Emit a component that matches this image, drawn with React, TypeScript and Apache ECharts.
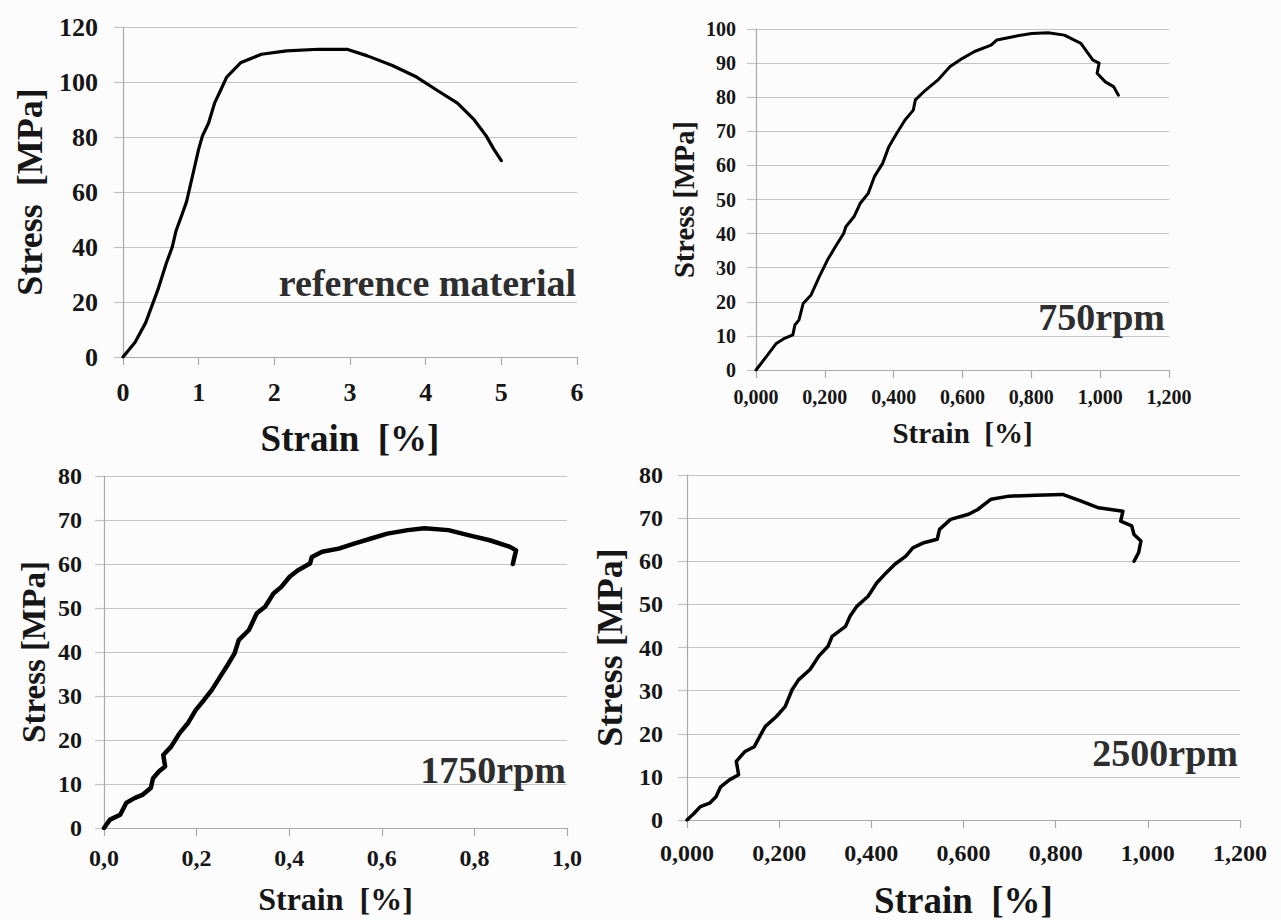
import React, { useEffect, useRef } from "react";
import * as echarts from "echarts";

// ---------- data (strain [%], stress [MPa]) ----------
const refMaterial: number[][] = [
  [0, 0], [0.16, 5.4], [0.3, 12.5], [0.46, 24.4], [0.57, 33.9], [0.65, 39.9], [0.7, 45.8],
  [0.78, 51.8], [0.84, 56.5], [0.92, 66], [1.0, 75.6], [1.05, 80.4], [1.13, 85], [1.21, 92.3],
  [1.29, 97], [1.37, 101.8], [1.56, 107.1], [1.83, 110.1], [2.16, 111.3], [2.59, 111.9],
  [2.96, 111.9], [3.23, 109.5], [3.56, 106], [3.88, 101.8], [4.15, 97], [4.42, 92.3],
  [4.64, 86.3], [4.8, 80.4], [4.9, 75.6], [5.0, 71.4],
];

const rpm750: number[][] = [
  [0, 0], [0.03, 3.9], [0.059, 7.8], [0.083, 9.3], [0.107, 10.3], [0.113, 13.2], [0.125, 14.7],
  [0.137, 19.5], [0.16, 22], [0.184, 27.4], [0.208, 32.3], [0.231, 36.2], [0.255, 40.1],
  [0.261, 42], [0.285, 45], [0.303, 48.9], [0.326, 51.8], [0.344, 56.7], [0.368, 60.6],
  [0.386, 65.5], [0.409, 69.4], [0.433, 73.3], [0.457, 76.2], [0.463, 79.2], [0.493, 82.1],
  [0.528, 85], [0.564, 89], [0.6, 91.4], [0.635, 93.4], [0.683, 95.3], [0.7, 96.8],
  [0.754, 97.9], [0.801, 98.7], [0.849, 98.9], [0.896, 98.2], [0.944, 95.8], [0.979, 90.9],
  [0.997, 90], [0.991, 87], [1.015, 84.5], [1.039, 83.1], [1.053, 80.6],
];

const rpm1750: number[][] = [
  [0, 0], [0.013, 1.9], [0.035, 3.0], [0.048, 5.7], [0.066, 6.8], [0.084, 7.6], [0.101, 9.1],
  [0.106, 11.3], [0.119, 12.9], [0.132, 14], [0.128, 16.6], [0.145, 18.5], [0.163, 21.5],
  [0.181, 23.8], [0.198, 26.8], [0.216, 29.1], [0.233, 31.4], [0.251, 34.4], [0.269, 37.4],
  [0.282, 39.7], [0.291, 42.7], [0.313, 45], [0.33, 48.8], [0.348, 50.3], [0.366, 53.3],
  [0.383, 54.8], [0.401, 57.1], [0.419, 58.6], [0.445, 60.1], [0.449, 61.6], [0.471, 62.8],
  [0.507, 63.5], [0.542, 64.7], [0.577, 65.8], [0.612, 66.9], [0.656, 67.7], [0.692, 68.1],
  [0.744, 67.7], [0.789, 66.5], [0.833, 65.4], [0.877, 63.9], [0.89, 63.1], [0.885, 60.9],
  [0.883, 60],
];

const rpm2500: number[][] = [
  [0, 0], [0.015, 1.5], [0.029, 3.1], [0.049, 3.9], [0.063, 5.4], [0.073, 7.7], [0.092, 9.3],
  [0.112, 10.5], [0.107, 13.6], [0.126, 15.9], [0.146, 17], [0.16, 19.8], [0.17, 21.7],
  [0.194, 24], [0.213, 26.3], [0.228, 30.2], [0.242, 32.5], [0.267, 34.9], [0.286, 38],
  [0.306, 40.3], [0.315, 42.6], [0.344, 44.9], [0.354, 47.3], [0.369, 49.6], [0.393, 51.9],
  [0.412, 55], [0.432, 57.3], [0.451, 59.3], [0.475, 61.2], [0.49, 63.1], [0.514, 64.3],
  [0.543, 65.1], [0.548, 67.4], [0.572, 69.7], [0.611, 70.9], [0.631, 72], [0.66, 74.4],
  [0.699, 75.1], [0.757, 75.3], [0.815, 75.5], [0.854, 74], [0.893, 72.4], [0.946, 71.6],
  [0.941, 69.3], [0.965, 68.2], [0.97, 66.2], [0.985, 64.7], [0.98, 62], [0.97, 60],
];

const panelLabels = ["reference material", "750rpm", "1750rpm", "2500rpm"];
const xAxisTitle = "Strain  [%]";
const yAxisTitle = "Stress [MPa]";
const yAxisTitleRef = "Stress  [MPa]";

// ---------- styling ----------
const FONT = "'Liberation Serif', 'Times New Roman', Times, serif";
const TEXT = "#161616";
const LABEL = "#2e2e2e";
const GRID = "#c3c3c3";
const AXIS = "#a9a9a9";

const comma = (d: number) => (v: number) => v.toFixed(d).replace(".", ",");

type Panel = {
  data: number[][];
  grid: { left: number; top: number; width: number; height: number };
  x: { max: number; interval: number; fmt?: (v: number) => string };
  y: { max: number; interval: number };
  tickFont: number;
  xNameFont: number;
  yNameFont: number;
  xLabelMargin: number;
  yLabelMargin: number;
  xNameGap: number;
  yNameGap: number;
  yName: string;
  lineWidth: number;
  label: { text: string; right: number; y: number; size: number };
};

const panels: Panel[] = [
  {
    data: refMaterial,
    grid: { left: 123, top: 27, width: 454, height: 330 },
    x: { max: 6, interval: 1 },
    y: { max: 120, interval: 20 },
    tickFont: 26,
    xNameFont: 37,
    yNameFont: 36,
    xLabelMargin: 22,
    yLabelMargin: 25,
    xNameGap: 63,
    yNameGap: 75,
    yName: yAxisTitleRef,
    lineWidth: 3.2,
    label: { text: panelLabels[0], right: 576, y: 283, size: 38 },
  },
  {
    data: rpm750,
    grid: { left: 756, top: 29, width: 413, height: 341 },
    x: { max: 1.2, interval: 0.2, fmt: comma(3) },
    y: { max: 100, interval: 10 },
    tickFont: 20,
    xNameFont: 29,
    yNameFont: 28.5,
    xLabelMargin: 17,
    yLabelMargin: 20,
    xNameGap: 48,
    yNameGap: 57,
    yName: yAxisTitle,
    lineWidth: 3,
    label: { text: panelLabels[1], right: 1165, y: 317, size: 38 },
  },
  {
    data: rpm1750,
    grid: { left: 104, top: 476, width: 463, height: 352 },
    x: { max: 1.0, interval: 0.2, fmt: comma(1) },
    y: { max: 80, interval: 10 },
    tickFont: 24,
    xNameFont: 32,
    yNameFont: 33,
    xLabelMargin: 18,
    yLabelMargin: 22,
    xNameGap: 55,
    yNameGap: 54,
    yName: yAxisTitle,
    lineWidth: 4.5,
    label: { text: panelLabels[2], right: 566, y: 770, size: 38 },
  },
  {
    data: rpm2500,
    grid: { left: 687, top: 475, width: 553, height: 345 },
    x: { max: 1.2, interval: 0.2, fmt: comma(3) },
    y: { max: 80, interval: 10 },
    tickFont: 24,
    xNameFont: 37,
    yNameFont: 36,
    xLabelMargin: 21,
    yLabelMargin: 24,
    xNameGap: 62,
    yNameGap: 59,
    yName: yAxisTitle,
    lineWidth: 3.5,
    label: { text: panelLabels[3], right: 1238, y: 753, size: 38 },
  },
];

export default function App() {
  const ref = useRef<HTMLDivElement>(null);

  useEffect(() => {
    if (!ref.current) return;
    const chart = echarts.init(ref.current, null, { renderer: "svg" });

    const option: any = {
      animation: false,
      backgroundColor: "#fcfcfc",
      textStyle: { fontFamily: FONT },
      grid: panels.map((p) => ({ ...p.grid, containLabel: false })),
      xAxis: panels.map((p, i) => ({
        type: "value",
        gridIndex: i,
        min: 0,
        max: p.x.max,
        interval: p.x.interval,
        name: xAxisTitle,
        nameLocation: "middle",
        nameGap: p.xNameGap,
        nameTextStyle: { fontFamily: FONT, fontWeight: "bold", fontSize: p.xNameFont, color: TEXT },
        axisLine: { show: true, lineStyle: { color: AXIS, width: 1.2 } },
        axisTick: { show: true, inside: false, length: 8, lineStyle: { color: AXIS, width: 1.2 } },
        splitLine: { show: false },
        axisLabel: {
          fontFamily: FONT,
          fontWeight: "bold",
          fontSize: p.tickFont,
          color: TEXT,
          margin: p.xLabelMargin,
          formatter: p.x.fmt ? p.x.fmt : (v: number) => String(v),
        },
      })),
      yAxis: panels.map((p, i) => ({
        type: "value",
        gridIndex: i,
        min: 0,
        max: p.y.max,
        interval: p.y.interval,
        name: p.yName,
        nameLocation: "middle",
        nameGap: p.yNameGap,
        nameTextStyle: { fontFamily: FONT, fontWeight: "bold", fontSize: p.yNameFont, color: TEXT },
        axisLine: { show: true, lineStyle: { color: AXIS, width: 1.2 } },
        axisTick: { show: true, inside: false, length: 9, lineStyle: { color: GRID, width: 1.2 } },
        splitLine: { show: true, lineStyle: { color: GRID, width: 1.2 } },
        axisLabel: {
          fontFamily: FONT,
          fontWeight: "bold",
          fontSize: p.tickFont,
          color: TEXT,
          margin: p.yLabelMargin,
        },
      })),
      series: panels.map((p, i) => ({
        type: "line",
        name: panelLabels[i],
        xAxisIndex: i,
        yAxisIndex: i,
        data: p.data,
        showSymbol: false,
        symbol: "none",
        smooth: false,
        lineStyle: { color: "#000000", width: p.lineWidth, join: "round", cap: "round" },
        z: 5,
      })),
      graphic: panels.map((p) => ({
        type: "text",
        x: p.label.right,
        y: p.label.y,
        z: 10,
        style: {
          text: p.label.text,
          fontFamily: FONT,
          fontWeight: "bold",
          fontSize: p.label.size,
          fill: LABEL,
          align: "right",
          verticalAlign: "middle",
        },
      })),
    };

    chart.setOption(option);
    return () => chart.dispose();
  }, []);

  return (
    <div
      ref={ref}
      style={{ position: "absolute", left: 0, top: 0, width: 1281, height: 920 }}
    />
  );
}
